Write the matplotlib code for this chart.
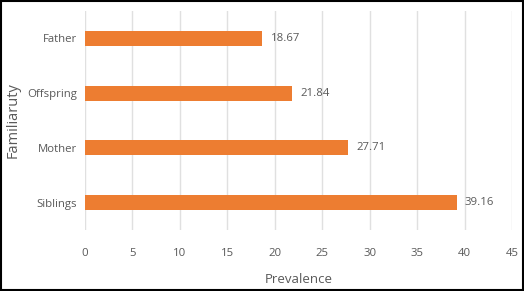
import matplotlib.pyplot as plt
from matplotlib.patches import Rectangle

# ===================== 数据 =====================
categories = ['Siblings', 'Mother', 'Offspring', 'Father']
values = [39.16, 27.71, 21.84, 18.67]
xticks = [0, 5, 10, 15, 20, 25, 30, 35, 40, 45]

BAR_COLOR = '#ED7D31'
TEXT_COLOR = '#595959'
GRID_COLOR = '#E0E0E0'

plt.rcParams['font.family'] = ['Open Sans', 'DejaVu Sans']

fig = plt.figure(figsize=(5.24, 2.91), dpi=100)
ax = fig.add_axes([0.1622, 0.2096, 0.815, 0.7526])

y = range(len(categories))
ax.barh(y, values, height=0.27, color=BAR_COLOR, zorder=3)

for yi, v in zip(y, values):
    ax.annotate(f'{v:.2f}', (v, yi), xytext=(6, 0), textcoords='offset points',
                va='center', ha='left', fontsize=8.2, color=TEXT_COLOR)

ax.set_xlim(0, 45)
ax.set_ylim(-0.5, 3.5)
ax.set_xticks(xticks)
ax.set_yticks(list(y))
ax.set_yticklabels(categories)
ax.xaxis.grid(True, color=GRID_COLOR, linewidth=1, zorder=0)
ax.tick_params(axis='both', length=0, labelsize=8.2, labelcolor=TEXT_COLOR)
ax.tick_params(axis='x', pad=13)
ax.tick_params(axis='y', pad=6)
for s in ax.spines.values():
    s.set_visible(False)

ax.set_xlabel('Prevalence', fontsize=9.5, color=TEXT_COLOR, labelpad=10)
ax.set_ylabel('Familiaruty', fontsize=10.5, color=TEXT_COLOR)
ax.yaxis.set_label_coords(-0.15, 0.5)

# 外框
fig.patches.append(Rectangle((0.002, 0.003), 0.996, 0.994, transform=fig.transFigure,
                             fill=False, edgecolor='black', linewidth=1.5))

fig.savefig('out.png', dpi=100)
